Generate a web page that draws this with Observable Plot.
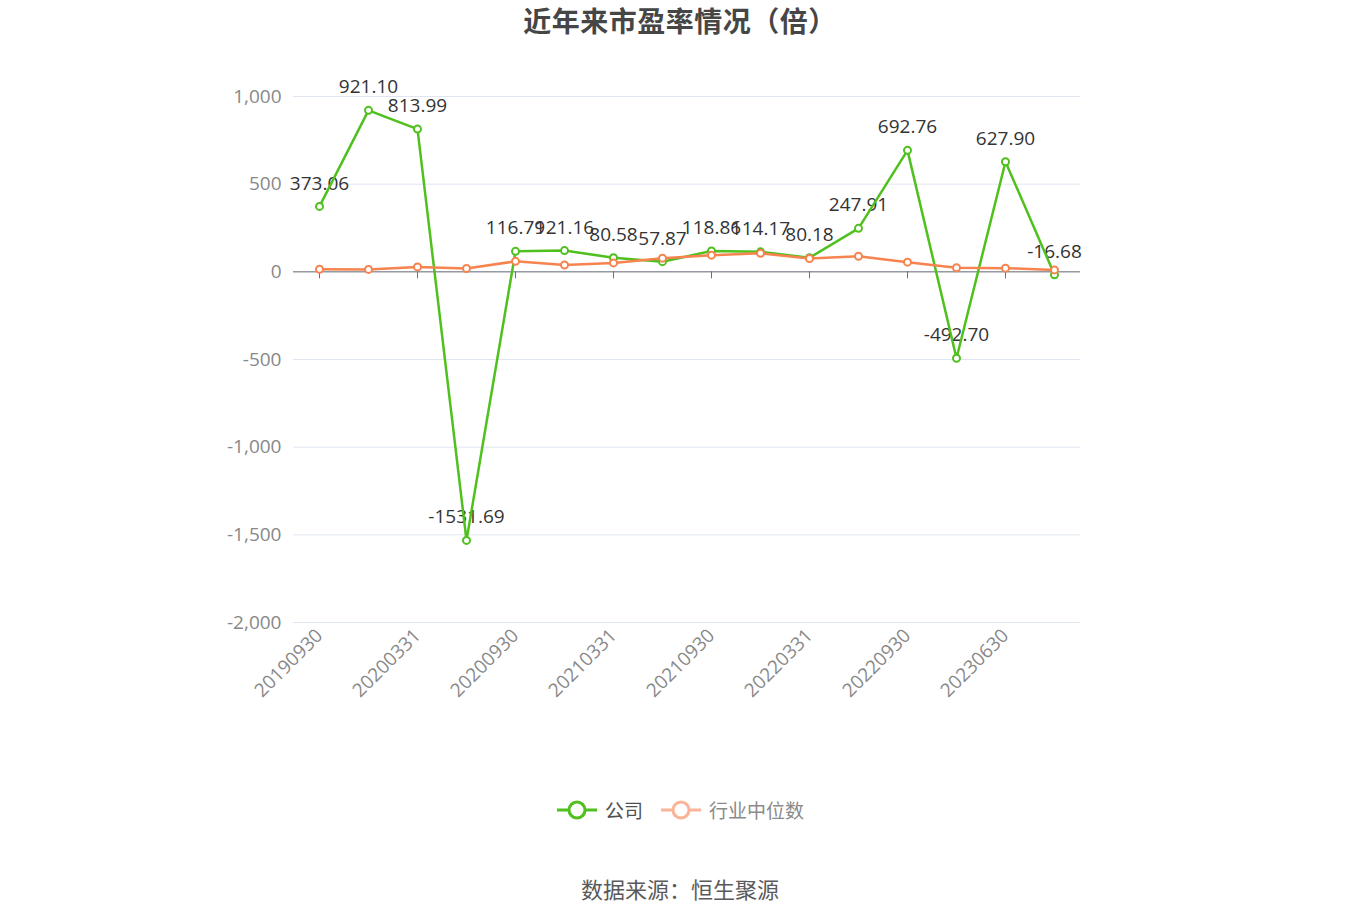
<!DOCTYPE html>
<html>
<head>
<meta charset="utf-8">
<script src="https://cdn.jsdelivr.net/npm/d3@7"></script>
<script src="https://cdn.jsdelivr.net/npm/@observablehq/plot@0.6"></script>
<style>
  body { margin: 0; background: #fff; font-family: "Noto Sans CJK SC", "Noto Sans", sans-serif; }
  #wrap { position: relative; width: 1360px; height: 920px; overflow: hidden; }
  #chart { position: absolute; top: 0; left: 0; }
  #title { position: absolute; top: 0; left: 6px; width: 1348px; text-align: center; font-size: 28px; letter-spacing: 0.5px; line-height: 40px; font-weight: bold; color: #464646; }
  #legend { position: absolute; top: 795px; left: 0; width: 1361px; display: flex; justify-content: center; align-items: center; font-size: 19px; line-height: 30px; }
  #legend .item { display: flex; align-items: center; }
  #legend svg { margin-right: 8px; }
  #source { position: absolute; top: 872px; left: 0; width: 1360px; text-align: center; font-size: 22px; line-height: 32px; color: #5a5a5a; }
</style>
</head>
<body>
<div id="wrap">
  <div id="chart"></div>
  <div id="title">近年来市盈率情况（倍）</div>
  <div id="legend"></div>
  <div id="source">数据来源：恒生聚源</div>
</div>
<script>
// ---- data ----
const dates = ["20190930","20191231","20200331","20200630","20200930","20201231","20210331","20210630","20210930","20211231","20220331","20220630","20220930","20221231","20230630","20230930"];
const company = [373.06, 921.10, 813.99, -1531.69, 116.79, 121.16, 80.58, 57.87, 118.86, 114.17, 80.18, 247.91, 692.76, -492.70, 627.90, -16.68];
const industry = [15, 14, 28, 19, 60, 39, 51, 78, 95, 106, 76, 89, 55, 23, 21, 11];
const xTickLabels = ["20190930","20200331","20200930","20210331","20210930","20220331","20220930","20230630"];
const yTicks = [-2000, -1500, -1000, -500, 0, 500, 1000];
const seriesNames = ["公司", "行业中位数"];

// ---- styles ----
const green = "#4fc01d";
const orange = "#f7834f";
const font = "\"Open Sans\", \"Noto Sans CJK SC\", \"Noto Sans\", sans-serif";

const rows = dates.map((d, i) => ({date: d, company: company[i], industry: industry[i]}));

const plot = Plot.plot({
  width: 1360,
  height: 720,
  marginLeft: 293,
  marginRight: 280,
  marginTop: 96,
  marginBottom: 98,
  style: {fontFamily: font, fontSize: "19px", background: "transparent", overflow: "visible"},
  x: {type: "point", domain: dates, padding: 0.5},
  y: {domain: [-2000, 1000]},
  marks: [
    Plot.gridY(yTicks, {stroke: "#e0e6f1", strokeOpacity: 1, strokeWidth: 1}),
    Plot.axisY(yTicks, {tickSize: 0, tickPadding: 12, tickFormat: d => d.toLocaleString("en-US"), fill: "#888", fontSize: 19, label: null}),
    Plot.axisX(xTickLabels, {tickSize: 0, tickRotate: -45, tickPadding: 10, fill: "#888", fontSize: 19, label: null}),
    Plot.ruleY([0], {stroke: "#6e7079", strokeWidth: 1}),
    Plot.ruleX(xTickLabels, {x: d => d, y1: 0, y2: 0, insetBottom: -7, stroke: "#6e7079", strokeWidth: 1}),
    Plot.text(rows, {x: "date", y: "company", text: d => d.company.toFixed(2), dy: -23, fill: "#333", fontSize: 19}),
    Plot.line(rows, {x: "date", y: "company", stroke: green, strokeWidth: 2.5}),
    Plot.line(rows, {x: "date", y: "industry", stroke: orange, strokeWidth: 2.5}),
    Plot.dot(rows, {x: "date", y: "company", r: 3.5, stroke: green, fill: "white", strokeWidth: 2}),
    Plot.dot(rows, {x: "date", y: "industry", r: 3.5, stroke: orange, fill: "white", strokeWidth: 2})
  ]
});
document.getElementById("chart").appendChild(plot);

// ---- legend ----
const legendColors = [green, "#fbb497"];
const legendText = ["#505050", "#8a8a8a"];
const legend = document.getElementById("legend");
seriesNames.forEach((name, i) => {
  const item = document.createElement("div");
  item.className = "item";
  if (i > 0) item.style.marginLeft = "18px";
  item.innerHTML = `<svg width="40" height="24" viewBox="0 0 40 24">
      <line x1="0" y1="12" x2="40" y2="12" stroke="${legendColors[i]}" stroke-width="3"/>
      <circle cx="20" cy="12" r="8" fill="white" stroke="${legendColors[i]}" stroke-width="3"/>
    </svg><span style="color:${legendText[i]}">${name}</span>`;
  legend.appendChild(item);
});
</script>
</body>
</html>
